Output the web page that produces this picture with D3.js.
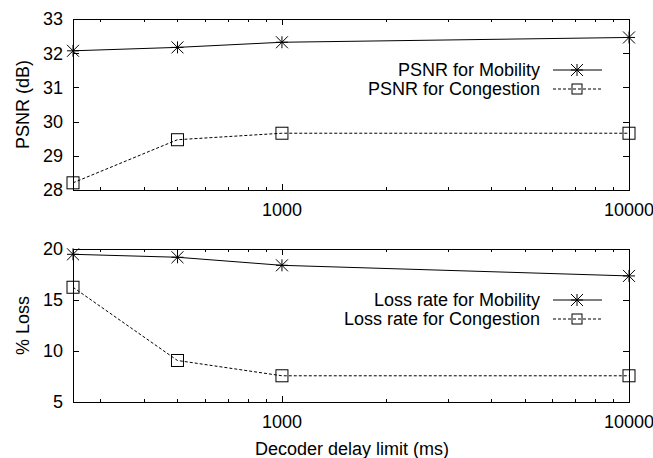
<!DOCTYPE html>
<html>
<head>
<meta charset="utf-8">
<script src="https://cdn.jsdelivr.net/npm/d3@7.9.0/dist/d3.min.js"></script>
<style>
  body { margin: 0; background: #fff; }
  svg text { font-family: "Liberation Sans", Arial, sans-serif; font-size: 18px; fill: #000; }
</style>
</head>
<body>
<svg id="chart" width="653" height="458"></svg>
<script>
// values
const delays = [250, 500, 1000, 10000];
const psnrMobility = [32.07, 32.17, 32.32, 32.46];
const psnrCongestion = [28.21, 29.47, 29.66, 29.66];
const lossMobility = [19.48, 19.19, 18.40, 17.36];
const lossCongestion = [16.25, 9.07, 7.57, 7.57];
const xTickLabels = [1000, 10000];
const psnrTicks = [28, 29, 30, 31, 32, 33];
const lossTicks = [5, 10, 15, 20];

const svg = d3.select('#chart');
const left = 73, right = 629;

const x = d3.scaleLog().domain([250, 10000]).range([left, right]);

function drawStar(g, cx, cy, r) {
    g.append('path')
        .attr('d', `M${cx - r},${cy}H${cx + r}M${cx},${cy - r}V${cy + r}` +
                   `M${cx - r},${cy - r}L${cx + r},${cy + r}M${cx - r},${cy + r}L${cx + r},${cy - r}`)
        .attr('stroke', '#000').attr('stroke-width', 1).attr('fill', 'none');
}

function drawSquare(g, cx, cy, r) {
    g.append('rect')
        .attr('x', cx - r).attr('y', cy - r)
        .attr('width', 2 * r).attr('height', 2 * r)
        .attr('fill', 'none').attr('stroke', '#000').attr('stroke-width', 1);
}

function panel(top, bottom, yDomain, yTicks, yTitle, series, labels, legendY) {
    let y = d3.scaleLinear().domain(yDomain).range([bottom, top]);
    let g = svg.append('g');

    // x ticks, mirrored on top, pointing inward
    x.ticks().forEach((t) => {
        let major = Math.abs(Math.log10(t) - Math.round(Math.log10(t))) < 1e-9;
        let len = major ? 6 : 3;
        let px = Math.round(x(t)) + 0.5;
        g.append('line').attr('x1', px).attr('x2', px).attr('y1', bottom).attr('y2', bottom - len)
            .attr('stroke', '#000');
        g.append('line').attr('x1', px).attr('x2', px).attr('y1', top).attr('y2', top + len)
            .attr('stroke', '#000');
    });
    xTickLabels.forEach((t) => {
        g.append('text').attr('x', x(t)).attr('y', bottom + 26)
            .attr('text-anchor', 'middle').text(t);
    });

    // y ticks on both sides
    yTicks.forEach((t) => {
        let py = Math.round(y(t)) + 0.5;
        g.append('line').attr('x1', left).attr('x2', left + 6).attr('y1', py).attr('y2', py)
            .attr('stroke', '#000');
        g.append('line').attr('x1', right).attr('x2', right - 6).attr('y1', py).attr('y2', py)
            .attr('stroke', '#000');
        g.append('text').attr('x', left - 10).attr('y', y(t)).attr('dy', '0.36em')
            .attr('text-anchor', 'end').text(t);
    });

    g.append('rect')
        .attr('x', left + 0.5).attr('y', top + 0.5)
        .attr('width', right - left).attr('height', bottom - top)
        .attr('fill', 'none').attr('stroke', '#000').attr('stroke-width', 1);

    g.append('text')
        .attr('transform', `translate(29,${(top + bottom) / 2}) rotate(-90)`)
        .attr('text-anchor', 'middle').text(yTitle);

    let line = d3.line().x((d, i) => x(delays[i])).y((d) => y(d));

    series.forEach((s, k) => {
        g.append('path').datum(s.values)
            .attr('d', line)
            .attr('fill', 'none').attr('stroke', '#000').attr('stroke-width', 1)
            .attr('stroke-dasharray', k === 1 ? '3,2' : null);
        s.values.forEach((v, i) => {
            if (k === 0) drawStar(g, x(delays[i]), y(v), 6);
            else drawSquare(g, x(delays[i]), y(v), 6);
        });

        // legend row
        let ly = legendY + k * 19;
        g.append('text').attr('x', 540).attr('y', ly).attr('dy', '0.36em')
            .attr('text-anchor', 'end').text(labels[k]);
        g.append('line').attr('x1', 553).attr('x2', 602).attr('y1', ly).attr('y2', ly)
            .attr('stroke', '#000').attr('stroke-dasharray', k === 1 ? '3,2' : null);
        if (k === 0) drawStar(g, 577, ly, 6);
        else drawSquare(g, 577, ly, 5);
    });
}

panel(19, 190, [28, 33], psnrTicks, 'PSNR (dB)',
    [{ values: psnrMobility }, { values: psnrCongestion }],
    ['PSNR for Mobility', 'PSNR for Congestion'], 70);

panel(249, 402, [5, 20], lossTicks, '% Loss',
    [{ values: lossMobility }, { values: lossCongestion }],
    ['Loss rate for Mobility', 'Loss rate for Congestion'], 300);

svg.append('text').attr('x', 352).attr('y', 455)
    .attr('text-anchor', 'middle').text('Decoder delay limit (ms)');
</script>
</body>
</html>
